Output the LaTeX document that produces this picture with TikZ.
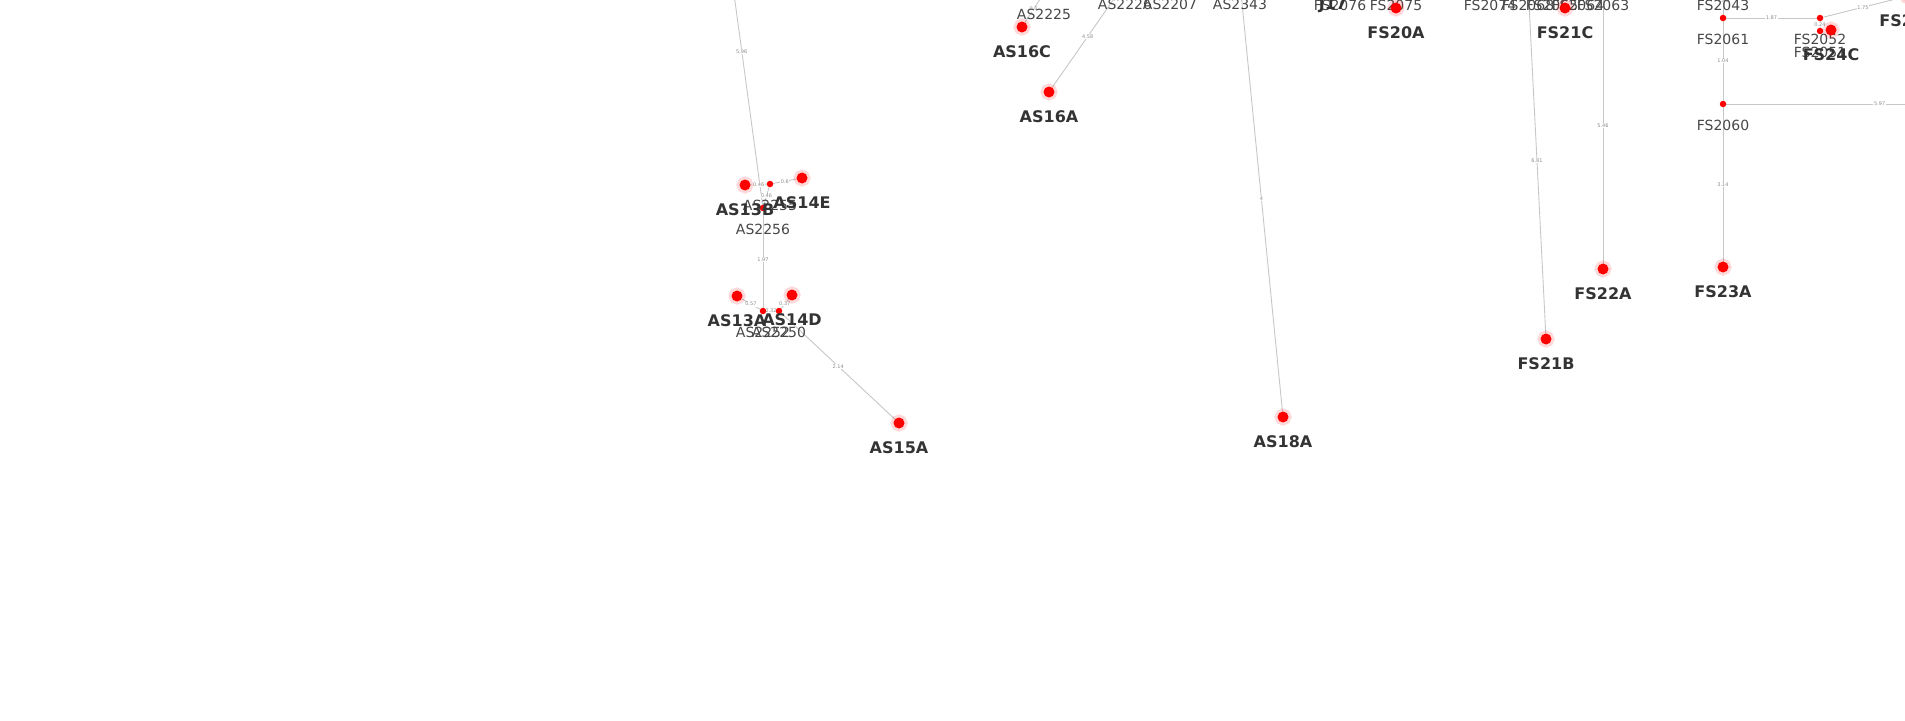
\documentclass[tikz,border=0pt]{standalone}
\usepackage{fontspec}
\setmainfont{DejaVu Sans}
\pgfdeclarelayer{bg}
\pgfsetlayers{bg,main}
\tikzset{
  hub/.style={circle, fill=red, inner sep=0pt, outer sep=0pt, minimum size=6.5pt},
  site/.style={circle, fill=red, inner sep=0pt, outer sep=0pt, minimum size=11pt,
    draw=red, draw opacity=0.15, line width=6pt},
  hubname/.style={anchor=center, label distance=18pt, text=black!72,
    font=\fontsize{14}{14}\selectfont},
  sitename/.style={anchor=center, label distance=19.5pt, text=black!80,
    font=\bfseries\fontsize{16}{16}\selectfont},
  link/.style={every edge/.style={draw=black!22, line width=0.9pt}},
  len/.style={fill=white, inner sep=0.6pt, text=black!45, font=\fontsize{5}{5}\selectfont},
}
\begin{document}
\begin{tikzpicture}[x=1pt, y=-1pt]
  \useasboundingbox (0,0) rectangle (1905,720);
  \clip (0,0) rectangle (1905,720);

  % AS side
  \coordinate (as2257) at (721,-102);
  \node[hub, label={[hubname]below:AS2256}] (as2256) at (763,208) {};
  \node[hub, label={[hubname]below:AS2255}] (as2255) at (770,184) {};
  \node[hub, label={[hubname]below:AS2252}] (as2252) at (763,311) {};
  \node[hub, label={[hubname]below:AS2250}] (as2250) at (779,311) {};
  \node[hub, label={[hubname]below:AS2225}] (as2225) at (1044,-7) {};
  \node[hub, label={[hubname]below:AS2226}] (as2226) at (1125,-17) {};
  \node[hub, label={[hubname]below:AS2207}] (as2207) at (1170,-17) {};
  \node[hub, label={[hubname]below:AS2343}] (as2343) at (1240,-17) {};
  \node[site, label={[sitename]below:AS13B}] (as13b) at (745,185) {};
  \node[site, label={[sitename]below:AS14E}] (as14e) at (802,178) {};
  \node[site, label={[sitename]below:AS13A}] (as13a) at (737,296) {};
  \node[site, label={[sitename]below:AS14D}] (as14d) at (792,295) {};
  \node[site, label={[sitename]below:AS15A}] (as15a) at (899,423) {};
  \node[site, label={[sitename]below:AS16C}] (as16c) at (1022,27) {};
  \node[site, label={[sitename]below:AS16A}] (as16a) at (1049,92) {};
  \node[site, label={[sitename]below:AS18A}] (as18a) at (1283,417) {};

  % FS side
  \coordinate (fs2059) at (2033,104);
  \node[hub, label={[hubname]below:FS2076}] (fs2076) at (1340,-16) {};
  \node[hub, label={[hubname]below:FS2075}] (fs2075) at (1396,-16) {};
  \node[hub, label={[hubname]below:FS2074}] (fs2074) at (1490,-16) {};
  \node[hub, label={[hubname]below:FS2068}] (fs2068) at (1528,-16) {};
  \node[hub, label={[hubname]below:FS2065}] (fs2065) at (1552,-16) {};
  \node[hub, label={[hubname]below:FS2064}] (fs2064) at (1578,-16) {};
  \node[hub, label={[hubname]below:FS2063}] (fs2063) at (1603,-16) {};
  \node[hub, label={[hubname]below:FS2043}] (fs2043) at (1723,-16) {};
  \node[hub, label={[hubname]below:FS2061}] (fs2061) at (1723,18) {};
  \node[hub, label={[hubname]below:FS2060}] (fs2060) at (1723,104) {};
  \node[hub, label={[hubname]below:FS2052}] (fs2052) at (1820,18) {};
  \node[hub, label={[hubname]below:FS2051}] (fs2051) at (1820,31) {};
  \node[site, label={[sitename]below:J17}] (j17) at (1333,-20) {};
  \node[site, label={[sitename]below:FS20A}] (fs20a) at (1396,8) {};
  \node[site, label={[sitename]below:FS21C}] (fs21c) at (1565,8) {};
  \node[site, label={[sitename]below:FS21B}] (fs21b) at (1546,339) {};
  \node[site, label={[sitename]below:FS22A}] (fs22a) at (1603,269) {};
  \node[site, label={[sitename]below:FS23A}] (fs23a) at (1723,267) {};
  \node[site, label={[sitename]below:FS24C}] (fs24c) at (1831,30) {};
  \node[site, label={[sitename]below:FS25A}] (fs25a) at (1908,-4) {};

  \begin{pgfonlayer}{bg}
  \clip (0,0) rectangle (1905,720);
  \path[link]
  (as2257) edge node [len] {5.96} (as2256)
  (as13b) edge node [len] {0.46} (as2255)
  (as2255) edge node [len] {0.6} (as14e)
           edge node [len] {0.46} (as2256)
  (as2256) edge node [len] {1.97} (as2252)
  (as13a) edge node [len] {0.57} (as2252)
  (as2252) edge node [len] {0.32} (as2250)
  (as2250) edge node [len] {0.37} (as14d)
           edge node [len] {2.14} (as15a)
  (as16c) edge node [len] {0.6} (as2225)
  (as16a) edge node [len] {4.58} (as2226)
  (as2343) edge node [len] {4} (as18a)
  (fs2068) edge node [len] {6.81} (fs21b)
  (fs2063) edge node [len] {5.46} (fs22a)
  (fs2043) edge node [len] {1.96} (fs2061)
  (fs2061) edge node [len] {1.87} (fs2052)
           edge node [len] {1.04} (fs2060)
  (fs2052) edge node [len] {0.24} (fs2051)
           edge node [len] {1.75} (fs25a)
  (fs2060) edge node [len] {5.97} (fs2059)
           edge node [len] {3.14} (fs23a)
  ;
  \end{pgfonlayer}
\end{tikzpicture}
\end{document}
